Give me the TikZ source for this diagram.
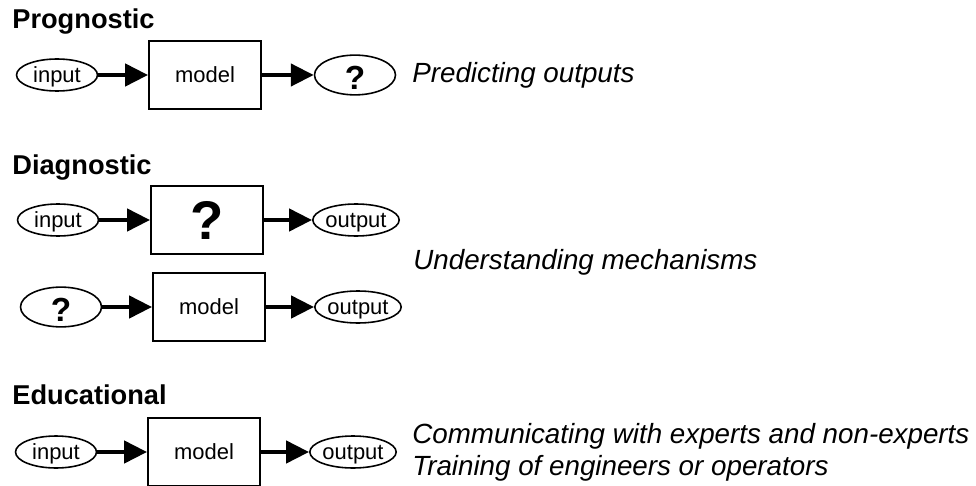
\documentclass[tikz,border=0pt]{standalone}
\usepackage{fontspec}
\setmainfont{Liberation Sans}
\usetikzlibrary{shapes.geometric, arrows.meta, positioning}

\begin{document}
\begin{tikzpicture}[
    x=0.02cm, y=-0.02cm,
    link/.style={-{Triangle[length=13pt, width=12.5pt]}, line width=2.4pt},
    var/.style={ellipse, draw, line width=0.9pt, minimum width=1.62cm, minimum height=0.64cm, inner sep=0pt, text height=9.5pt, text depth=1.4pt, font=\fontsize{12.5}{14}\selectfont},
    unknown/.style={var, text height=16pt, text depth=0pt, font=\fontsize{19}{20}\selectfont\bfseries},
    block/.style={rectangle, draw, line width=1.1pt, minimum width=2.24cm, minimum height=1.36cm, inner sep=2pt, font=\fontsize{12.5}{14}\selectfont},
    heading/.style={anchor=base west, inner sep=0pt, font=\fontsize{15.5}{18}\selectfont\bfseries},
    purpose/.style={anchor=west, inner sep=0pt, align=left, font=\fontsize{15.8}{18.2}\selectfont\itshape},
]
\useasboundingbox (0,0) rectangle (976,486);

% Prognostic
\node[heading] (h1) at (12,29) {Prognostic};
\node[var] (in1) at (57,75) {input};
\node[block] (mod1) at (205,75) {model};
\node[unknown] (out1) at (355,75) {?};
\draw[link] (in1) -- (mod1);
\draw[link] (mod1) -- (out1);
\node[purpose] (p1) at (412,75) {Predicting outputs};

% Diagnostic
\node[heading] (h2) at (12,174) {Diagnostic};
\node[var] (in2) at (58,220) {input};
\node[block, font=\fontsize{31}{32}\selectfont\bfseries] (mod2) at (207,220) {?};
\node[var] (out2) at (356,220) {output};
\draw[link] (in2) -- (mod2);
\draw[link] (mod2) -- (out2);

\node[unknown] (in3) at (61,307) {?};
\node[block] (mod3) at (209,307) {model};
\node[var] (out3) at (358,307) {output};
\draw[link] (in3) -- (mod3);
\draw[link] (mod3) -- (out3);
\node[purpose] (p2) at (413,262) {Understanding mechanisms};

% Educational
\node[heading] (h3) at (12,404) {Educational};
\node[var] (in4) at (56,452) {input};
\node[block] (mod4) at (204,452) {model};
\node[var] (out4) at (353,452) {output};
\draw[link] (in4) -- (mod4);
\draw[link] (mod4) -- (out4);
\node[purpose] (p3) at (412,452) {Communicating with experts and non-experts\\Training of engineers or operators};

\end{tikzpicture}
\end{document}
